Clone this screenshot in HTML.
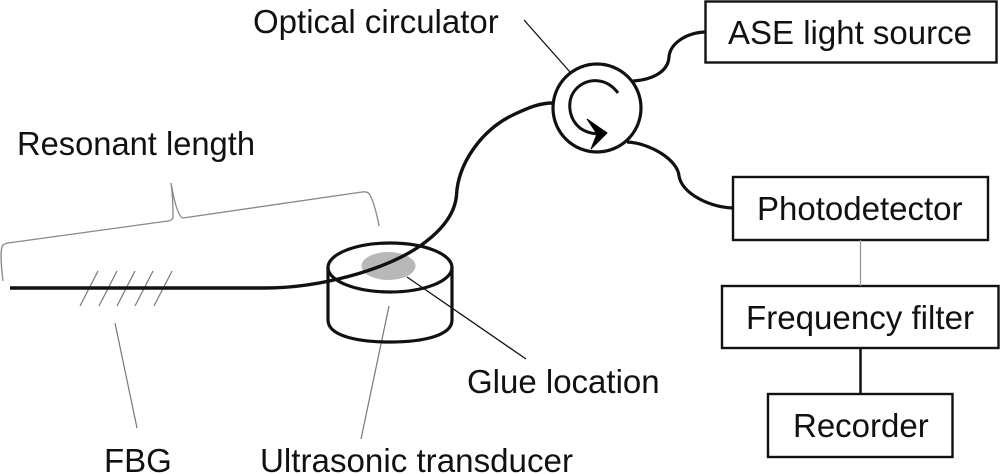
<!DOCTYPE html>
<html><head><meta charset="utf-8"><style>
html,body{margin:0;padding:0;background:#fff}
svg{display:block}
text{font-family:"Liberation Sans",sans-serif;font-size:33px;fill:#111}
</style></head><body>
<svg width="1000" height="474" viewBox="0 0 1000 474" xmlns="http://www.w3.org/2000/svg">
<g fill="none" stroke="#111">
<!-- brace -->
<path d="M3 281 C1 265 0 248 3 245 Q4 244 8 243 L168 221 Q174 220 173 215 C173 200 172 190 171 183 C174 200 178 217 183 218 L362 192 Q368 191 370 195 C374 203 377 215 379 226" stroke="#888" stroke-width="1.3"/>
<!-- FBG marks -->
<g stroke="#777" stroke-width="1.2">
<path d="M80 306 L98 271M99 306 L117 271M117 306 L135 271M135 306 L153 271M154 306 L172 271"/>
<path d="M115 323 L137 428M389 306 L361 439"/>
</g>
<!-- transducer -->
<ellipse cx="388.500" cy="266" rx="27" ry="14" fill="#b8b8b8" stroke="none"/>
<ellipse cx="390" cy="267.500" rx="62" ry="24.500" stroke-width="3.200"/>
<path d="M328 267 V320 C328 336 358 342 390 342 C422 342 452 336 452 320 V267" stroke-width="3.200"/>
<!-- main fibre -->
<path d="M10 288 H265 C320 288 385 270 420 246 C440 232 455 215 456.500 195 C458 165 480 130 515 114 C530 107 540 103 553 103" stroke-width="3.400"/>
<!-- leader lines -->
<path d="M407 277 L526 359M524 20 L570 72" stroke-width="1.3"/>
<!-- circulator -->
<circle cx="597" cy="108" r="44" stroke-width="3.200" fill="#fff"/>
<path d="M618 93 C606 77 588 78 577 88 C566 99 568 118 580 128 C587 133 594 134 602 134" stroke-width="3"/>
<path d="M587 119 L607 133 L591 149 L597 134 Z" fill="#000" stroke="#000" stroke-width="1"/>
<!-- right fibres -->
<path d="M633 81 C650 80 668 73 669 57 C670 44 685 33 705 32" stroke-width="3.200"/>
<path d="M627 142 C650 143 678 160 679 176 C682 193 708 207 733 208" stroke-width="3.200"/>
<!-- boxes -->
<g stroke-width="2.400">
<rect x="705.500" y="1.500" width="291" height="61"/>
<rect x="733" y="177" width="255" height="63"/>
<rect x="722" y="286" width="276.500" height="62"/>
<rect x="768" y="394" width="184.500" height="63"/>
</g>
<path d="M860.500 240 V286" stroke="#999" stroke-width="1.3"/>
<path d="M860.500 348 V394" stroke-width="2.500"/>
</g>
<text x="253" y="33">Optical circulator</text>
<text x="728" y="44">ASE light source</text>
<text x="17" y="155" textLength="238" lengthAdjust="spacingAndGlyphs">Resonant length</text>
<text x="757" y="220">Photodetector</text>
<text x="746" y="329" textLength="228" lengthAdjust="spacingAndGlyphs">Frequency filter</text>
<text x="793" y="437">Recorder</text>
<text x="467" y="393">Glue location</text>
<text x="104" y="472">FBG</text>
<text x="260" y="472" textLength="313" lengthAdjust="spacingAndGlyphs">Ultrasonic transducer</text>
</svg>
</body></html>
